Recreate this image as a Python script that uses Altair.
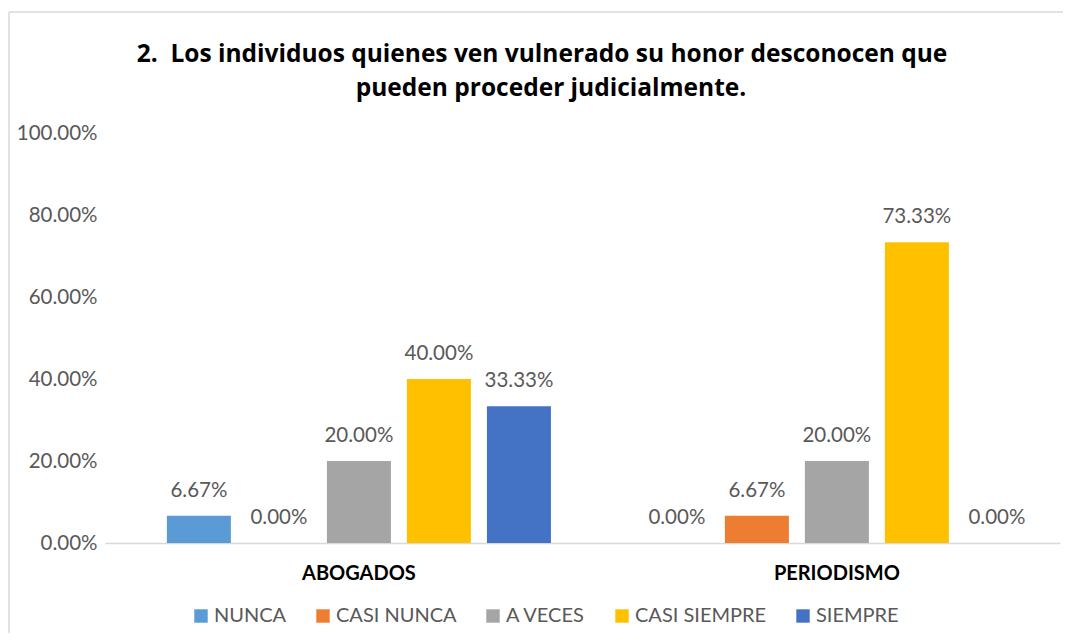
import altair as alt
import pandas as pd

groups = ["ABOGADOS", "PERIODISMO"]
categories = ["NUNCA", "CASI NUNCA", "A VECES", "CASI SIEMPRE", "SIEMPRE"]
abogados = [0.0667, 0.0, 0.20, 0.40, 0.3333]
periodismo = [0.0, 0.0667, 0.20, 0.7333, 0.0]
colors = ["#5B9BD5", "#ED7D31", "#A5A5A5", "#FFC000", "#4472C4"]
y_ticks = [0, 0.2, 0.4, 0.6, 0.8, 1.0]
title_line1 = "2.\u00a0 Los individuos quienes ven vulnerado su honor desconocen que"
title_line2 = "pueden proceder judicialmente."

rows = []
for g, vals in zip(groups, [abogados, periodismo]):
    for c, v in zip(categories, vals):
        rows.append({"group": g, "cat": c, "value": v})
df = pd.DataFrame(rows)

FONT = "Lato"
TFONT = "Open Sans"
W, H = 955, 410

x_enc = alt.X("group:N", sort=groups, title=None,
              scale=alt.Scale(paddingInner=0.163, paddingOuter=0.0805, align=0.70),
              axis=alt.Axis(labelAngle=0, ticks=False, domain=True, domainColor="#d9d9d9",
                            domainWidth=1.5, labelFont=FONT, labelFontSize=20,
                            labelFontWeight="bold", labelColor="#000000", labelPadding=20))
xo_enc = alt.XOffset("cat:N", sort=categories,
                     scale=alt.Scale(paddingInner=0.2, paddingOuter=0.1))
y_enc = alt.Y("value:Q", title=None,
              scale=alt.Scale(domain=[0, 1], nice=False),
              axis=alt.Axis(values=y_ticks, format=".2%", grid=False, domain=False, ticks=False,
                            labelFont=FONT, labelFontSize=20.5, labelColor="#595959",
                            labelPadding=8))

base = alt.Chart(df)

bars = base.mark_bar().encode(
    x=x_enc, xOffset=xo_enc, y=y_enc,
    color=alt.Color("cat:N", sort=categories, title=None,
                    scale=alt.Scale(domain=categories, range=colors),
                    legend=alt.Legend(orient="none", legendX=86, legendY=473,
                                      direction="horizontal", symbolType="square",
                                      symbolSize=180, symbolStrokeWidth=0,
                                      labelFont=FONT, labelFontSize=20, labelColor="#595959",
                                      columnPadding=26, symbolOffset=0, labelOffset=3))
)

labels = base.mark_text(baseline="alphabetic", dy=-19, font=FONT, fontSize=20.5,
                        color="#595959").encode(
    x=x_enc, xOffset=xo_enc, y=y_enc,
    text=alt.Text("value:Q", format=".2%")
)

one = alt.Data(values=[{}])
border_top = alt.Chart(one).mark_rule(color="#d9d9d9", strokeWidth=1.5).encode(
    x=alt.value(-96), x2=alt.value(W + 20), y=alt.value(-121))
border_left = alt.Chart(one).mark_rule(color="#d9d9d9", strokeWidth=1.5).encode(
    x=alt.value(-96), y=alt.value(-121), y2=alt.value(H + 150))

t1 = alt.Chart(one).mark_text(font=TFONT, fontSize=24.5, fontWeight="bold", color="#000000",
                              baseline="alphabetic", align="center").encode(
    x=alt.value(437), y=alt.value(-71), text=alt.value(title_line1))
t2 = alt.Chart(one).mark_text(font=TFONT, fontSize=24.5, fontWeight="bold", color="#000000",
                              baseline="alphabetic", align="center").encode(
    x=alt.value(446), y=alt.value(-37), text=alt.value(title_line2))

chart = alt.layer(border_top, border_left, bars, labels, t1, t2).properties(
    width=W, height=H,
    background="white",
    autosize=alt.AutoSizeParams(type="none"),
    padding={"left": 97, "top": 125, "right": 3, "bottom": 90},
).configure_view(strokeWidth=0, stroke="transparent")

chart.save("out.html", embed_options={"renderer": "svg", "actions": False})
